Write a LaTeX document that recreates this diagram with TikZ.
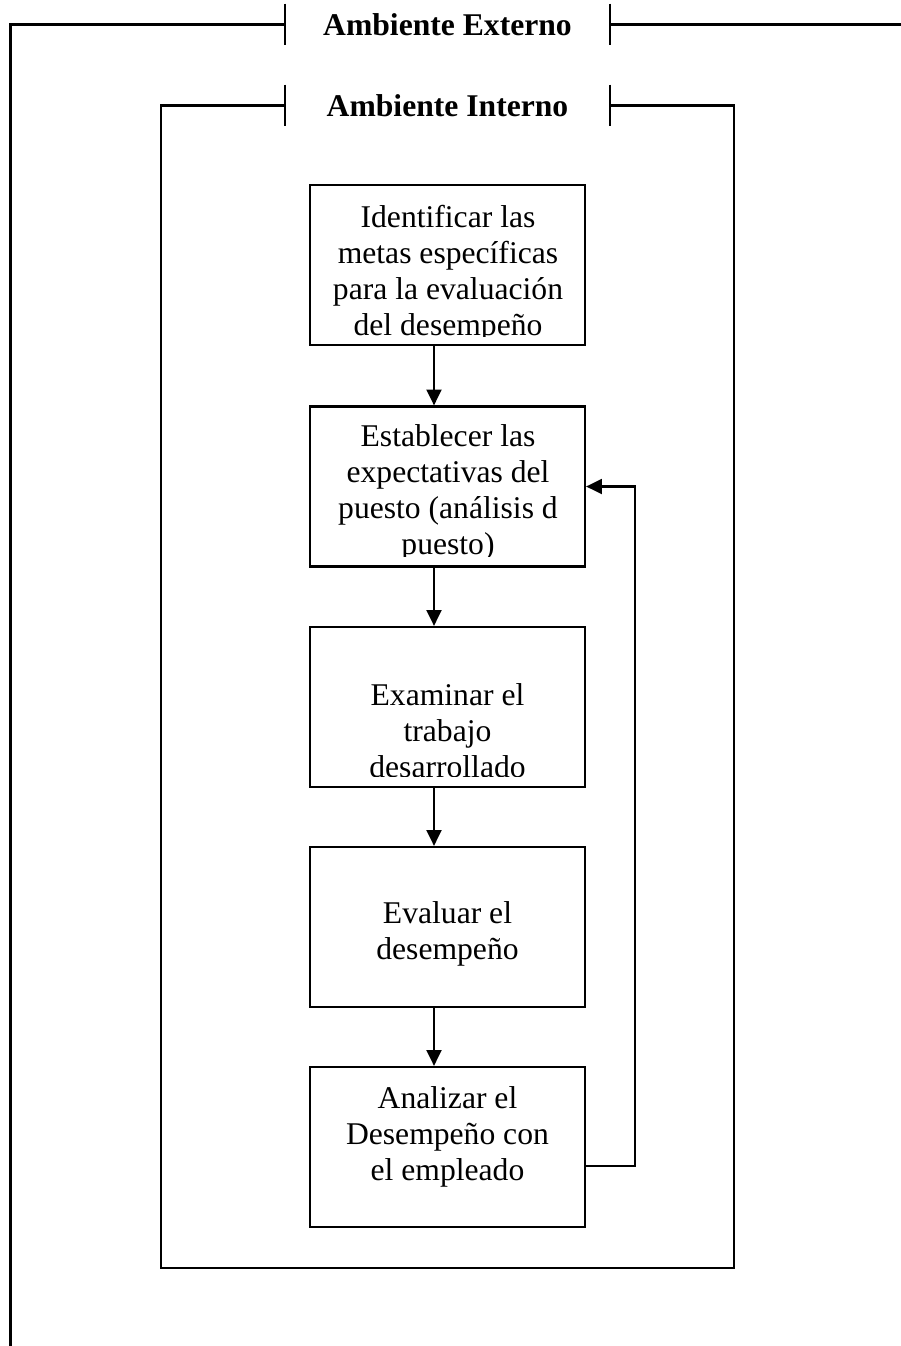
\documentclass[tikz,border=0pt]{standalone}
\usepackage{fontspec}
\setmainfont{Liberation Serif}
\usetikzlibrary{arrows.meta, positioning}
\tikzset{
x=0.02cm, y=-0.02cm, % one unit is one pixel of the page, y runs downwards
frame/.style={line width=1.3pt}, % the two environment frames
tick/.style={line width=1pt}, % short bars on both sides of a title
title/.style={font=\bfseries\fontsize{18}{20}\selectfont, minimum width=6.5cm, minimum height=0.82cm, inner sep=0pt},
stepbox/.style={draw, line width=1.3pt, minimum width=5.5cm, minimum height=3.2cm, inner sep=0pt}, % one step of the process
steptext/.style={font=\fontsize{18}{20.4}\selectfont, align=center, anchor=base, inner sep=0pt}, % base = last line
flow/.style={-{Triangle[length=9pt, width=8.5pt]}, line width=1.2pt}, % arrows between the steps
}

\begin{document}
\begin{tikzpicture}
\useasboundingbox (0,0) rectangle (901,1346);

% titles
\node[title] (ext) at (447.5,24.5) {Ambiente Externo};
\node[title] (int) at (447.5,105.5) {Ambiente Interno};

\draw[tick] (ext.north west) -- (ext.south west);
\draw[tick] (ext.north east) -- (ext.south east);
\draw[tick] (int.north west) -- (int.south west);
\draw[tick] (int.north east) -- (int.south east);

% outer frame
\coordinate (ext corner) at (10.5,24.5);
\coordinate (ext foot) at (10.5,1346);
\coordinate (ext end) at (901,24.5);
\draw[frame] (ext.west) -- (ext corner) -- (ext foot);
\draw[frame] (ext.east) -- (ext end);

% inner frame
\coordinate (int nw) at (161,105.5);
\coordinate (int ne) at (734,105.5);
\coordinate (int se) at (734,1268);
\coordinate (int sw) at (161,1268);
\draw[frame] (int.west) -- (int nw) -- (int sw) -- (int se) -- (int ne) -- (int.east);

% steps
\node[stepbox] (b1) at (447.5,265) {};
\node[stepbox] (b2) at (447.5,486.5) {};
\node[stepbox] (b3) at (447.5,707) {};
\node[stepbox] (b4) at (447.5,927) {};
\node[stepbox] (b5) at (447.5,1147) {};

% texts, cut off near the bottom of their box
\begin{scope}
\clip (b1.north west) rectangle ([yshift=0.2cm]b1.south east);
\node[steptext] (t1) at (448,335) {Identificar las\\metas específicas\\para la evaluación\\del desempeño};
\end{scope}
\begin{scope}
\clip (b2.north west) rectangle ([yshift=0.22cm]b2.south east);
\node[steptext] (t2) at (448,554) {Establecer las\\expectativas del\\puesto (análisis d\\puesto)};
\end{scope}
\begin{scope}
\clip (b3.north west) rectangle ([yshift=0.24cm]b3.south east);
\node[steptext] (t3) at (447.5,777) {Examinar el\\trabajo\\desarrollado};
\end{scope}
\node[steptext] (t4) at (447.5,959) {Evaluar el\\desempeño};
\node[steptext] (t5) at (447.5,1180) {Analizar el\\Desempeño con\\el empleado};

% arrows
\draw[flow] ([xshift=-0.27cm]b1.south) -- ([xshift=-0.27cm]b2.north);
\draw[flow] ([xshift=-0.27cm]b2.south) -- ([xshift=-0.27cm]b3.north);
\draw[flow] ([xshift=-0.27cm]b3.south) -- ([xshift=-0.27cm]b4.north);
\draw[flow] ([xshift=-0.27cm]b4.south) -- ([xshift=-0.27cm]b5.north);
\draw[flow] ([yshift=-0.38cm]b5.east) -- ++(49,0) |- (b2.east);
\end{tikzpicture}
\end{document}
